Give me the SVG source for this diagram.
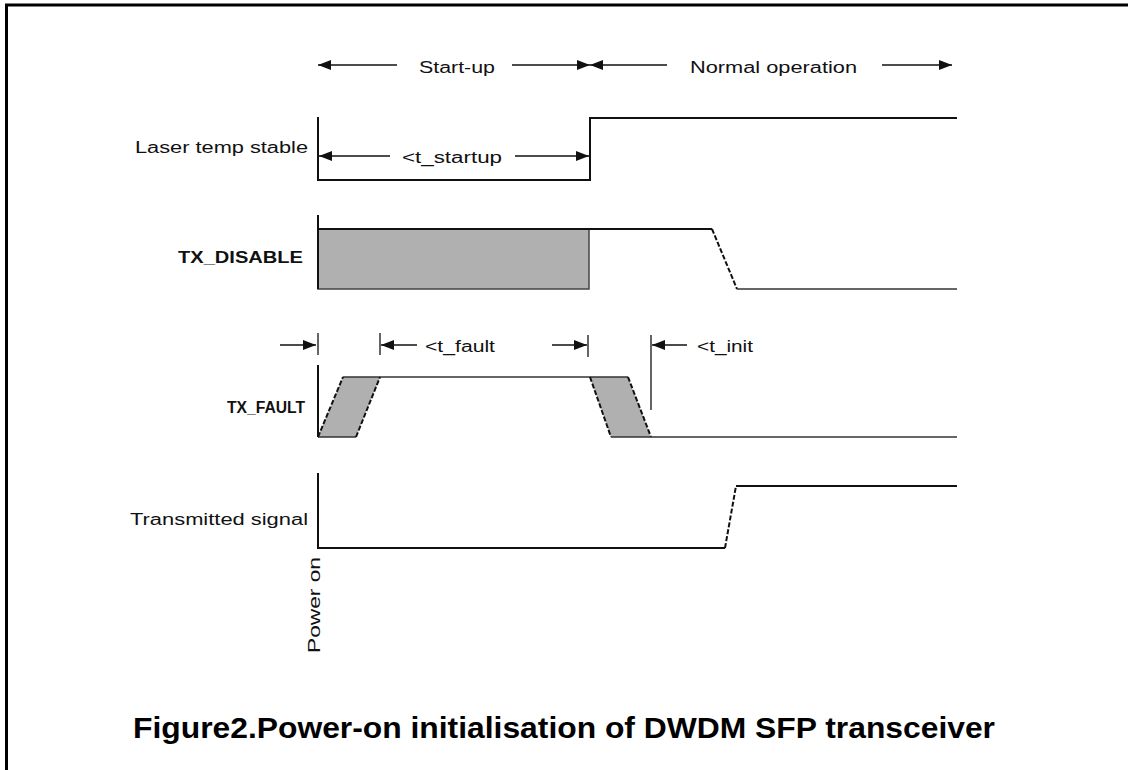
<svg xmlns="http://www.w3.org/2000/svg" width="1128" height="770" viewBox="0 0 1128 770">
<defs>
<marker id="ah" markerUnits="userSpaceOnUse" markerWidth="14" markerHeight="12" refX="13" refY="5" orient="auto"><path d="M0,0 L13,5 L0,10 z" fill="#111"/></marker>
<style>
.lbl{font-family:"Liberation Sans",Arial,sans-serif;font-size:16px;fill:#111}
.b{font-weight:bold}
.w{fill:none;stroke:#111;stroke-width:2}
.t{fill:none;stroke:#333;stroke-width:1.5}
.a{stroke:#111;stroke-width:1.5;marker-end:url(#ah)}
.sl{fill:none;stroke:#111;stroke-width:2;stroke-dasharray:5 2}
.g{fill:#b0b0b0}
.title{font-family:"Liberation Sans",Arial,sans-serif;font-weight:bold;font-size:30px;fill:#000}
</style>
</defs>
<rect width="1128" height="770" fill="#fff"/>
<path d="M6.5,770 V5 H1128" fill="none" stroke="#000" stroke-width="3"/>

<g id="phase-header">
<text class="lbl" x="419" y="73" textLength="76" lengthAdjust="spacingAndGlyphs">Start-up</text>
<text class="lbl" x="690" y="73" textLength="167" lengthAdjust="spacingAndGlyphs">Normal operation</text>
</g>

<g id="laser-temp-stable">
<text class="lbl" x="135" y="153" textLength="173" lengthAdjust="spacingAndGlyphs">Laser temp stable</text>
<path class="w" d="M318,117 V180 H590 V118 H957"/>
<text class="lbl" x="402" y="163" textLength="100" lengthAdjust="spacingAndGlyphs">&lt;t_startup</text>
</g>

<g id="tx-disable">
<rect class="g" x="318" y="229" width="271" height="60" stroke="#444" stroke-width="1.5"/>
<path class="w" d="M318,215 V289"/>
<path class="w" d="M318,229 H712"/>
<path class="sl" d="M712,229 L737,289"/>
<path class="t" d="M737,289 H957"/>
<text class="lbl b" x="178" y="263" textLength="125" lengthAdjust="spacingAndGlyphs">TX_DISABLE</text>
</g>

<g id="tx-fault">
<polygon class="g" points="318,437 343,377 380,377 356,437"/>
<polygon class="g" points="590,377 628,377 651,437 611,437"/>
<path class="w" d="M318,365 V437"/>
<path class="t" d="M318,437 H356"/>
<path class="t" d="M343,377 H628"/>
<path class="sl" d="M318,437 L343,377 M356,437 L380,377 M590,377 L611,437 M628,377 L651,437"/>
<path class="t" d="M611,437 H957"/>
<text class="lbl b" x="227" y="413" textLength="78" lengthAdjust="spacingAndGlyphs">TX_FAULT</text>
<path class="t" d="M318,333 V355 M380,333 V355 M588,335 V357 M651,335 V410"/>
<text class="lbl" x="425" y="352" textLength="70" lengthAdjust="spacingAndGlyphs">&lt;t_fault</text>
<text class="lbl" x="697" y="352" textLength="56" lengthAdjust="spacingAndGlyphs">&lt;t_init</text>
</g>

<g id="transmitted-signal">
<path class="w" d="M318,473 V548 H725"/>
<path class="sl" d="M725,548 L736,486"/>
<path class="w" d="M736,486 H957"/>
<text class="lbl" x="130" y="525" textLength="178" lengthAdjust="spacingAndGlyphs">Transmitted signal</text>
<text class="lbl" transform="translate(320,653) rotate(-90)" font-size="17" textLength="96" lengthAdjust="spacingAndGlyphs">Power on</text>
</g>

<g id="connectors">
<line class="a" x1="397" y1="65" x2="318" y2="65"/>
<line class="a" x1="512" y1="65" x2="590" y2="65"/>
<line class="a" x1="667" y1="65" x2="590" y2="65"/>
<line class="a" x1="882" y1="65" x2="952" y2="65"/>
<line class="a" x1="390" y1="156" x2="319" y2="156"/>
<line class="a" x1="515" y1="156" x2="589" y2="156"/>
<line class="a" x1="280" y1="345" x2="316" y2="345"/>
<line class="a" x1="417" y1="345" x2="381" y2="345"/>
<line class="a" x1="552" y1="345" x2="587" y2="345"/>
<line class="a" x1="687" y1="345" x2="652" y2="345"/>
</g>

<g id="caption">
<text class="title" x="133" y="738" textLength="862" lengthAdjust="spacingAndGlyphs">Figure2.Power-on initialisation of DWDM SFP transceiver</text>
</g>
</svg>
